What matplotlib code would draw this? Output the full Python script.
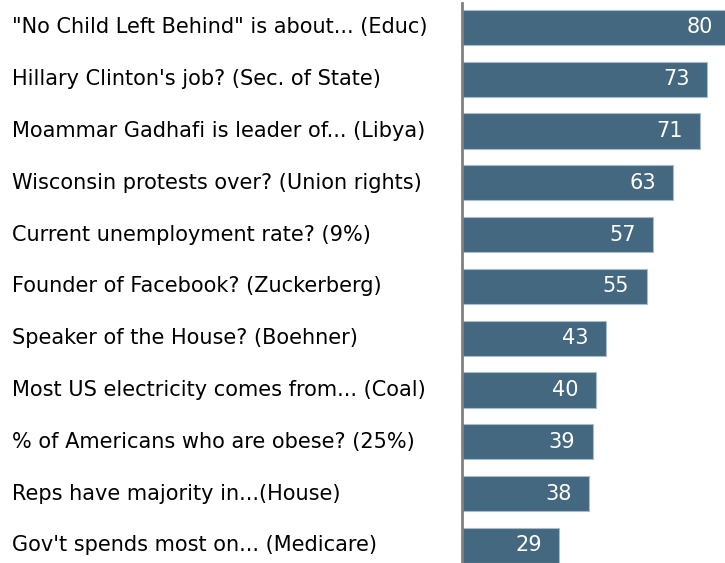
import matplotlib
matplotlib.use("Agg")
import matplotlib.pyplot as plt

# Knowledge questions and percent answering correctly
questions = [
    '"No Child Left Behind" is about... (Educ)',
    "Hillary Clinton's job? (Sec. of State)",
    "Moammar Gadhafi is leader of... (Libya)",
    "Wisconsin protests over? (Union rights)",
    "Current unemployment rate? (9%)",
    "Founder of Facebook? (Zuckerberg)",
    "Speaker of the House? (Boehner)",
    "Most US electricity comes from... (Coal)",
    "% of Americans who are obese? (25%)",
    "Reps have majority in...(House)",
    "Gov't spends most on... (Medicare)",
]
pct_correct = [80, 73, 71, 63, 57, 55, 43, 40, 39, 38, 29]

bar_color = "#44687f"
edge_color = "#a9bccb"

fig = plt.figure(figsize=(7.25, 5.63), dpi=100)
ax = fig.add_axes([462 / 725, 0, 1 - 462 / 725, 1 - 3 / 563])

ypos = list(range(len(questions)))
ax.barh(ypos, pct_correct, height=0.68, color=bar_color,
        edgecolor=edge_color, linewidth=0.8)

for y, v in zip(ypos, pct_correct):
    ax.annotate(str(v), xy=(v, y), xytext=(-12.5, 0), textcoords="offset points",
                ha="right", va="center", color="white", fontsize=15,
                annotation_clip=False)

for y, q in zip(ypos, questions):
    ax.annotate(q, xy=(0, y), xycoords=("figure fraction", "data"),
                xytext=(12 * 0.72, 0), textcoords="offset points",
                ha="left", va="center", color="black", fontsize=15,
                annotation_clip=False)

ax.set_xlim(0, 78.4)
ax.set_ylim(10.34, -0.473)
ax.set_xticks([])
ax.set_yticks([])
for side in ["top", "right", "bottom"]:
    ax.spines[side].set_visible(False)
ax.spines["left"].set_color("#808080")
ax.spines["left"].set_linewidth(2)

fig.savefig("out.png", dpi=100)
